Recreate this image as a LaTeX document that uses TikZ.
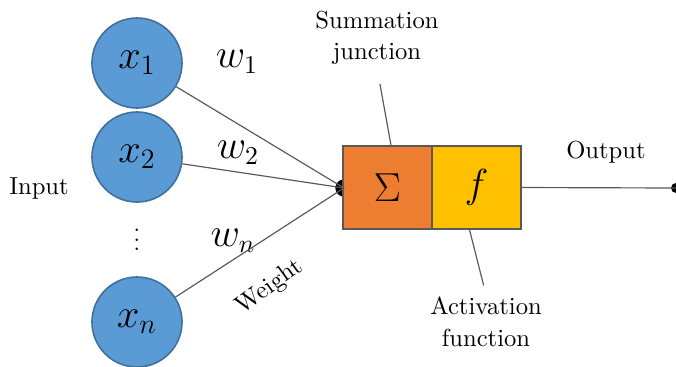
\documentclass[tikz,border=0pt]{standalone}
\usepackage{xcolor}
\usepackage{tikz}
\usepackage{amsmath}
\usetikzlibrary{positioning, calc}
\definecolor{neuronblue}{HTML}{5B9BD5}
\definecolor{neuronblueline}{HTML}{41719C}
\definecolor{sumorange}{HTML}{ED7D31}
\definecolor{actgold}{HTML}{FFC000}
\definecolor{wiregray}{HTML}{595959}

\begin{document}
\begin{tikzpicture}[
  x=0.015cm, y=-0.015cm,
  inp/.style={draw=neuronblueline, line width=0.7pt, fill=neuronblue, circle, minimum size=1.35cm, inner sep=0pt, font=\fontsize{17}{20}\selectfont},
  part/.style={draw=wiregray, line width=0.5pt, minimum width=1.335cm, minimum height=1.245cm, inner sep=0pt},
  lbl/.style={align=center, font=\fontsize{10.5}{13.4}\selectfont, inner sep=1pt},
  wlbl/.style={font=\fontsize{16}{18}\selectfont, inner sep=0pt},
  wire/.style={wiregray, line width=0.5pt},
  lead/.style={wiregray, line width=0.5pt}
]
\useasboundingbox (0,0) rectangle (676,366);

\node[inp] (x1) at (137,63) {$x_1$};
\node[inp] (x2) at (137,157) {$x_2$};
\node[inner sep=0pt, font=\normalsize] (vdot) at (137,233) {$\vdots$};
\node[inp] (xn) at (137,322) {$x_n$};
\node[lbl] (input) at (39,188) {Input};

\node[circle, fill=black, minimum size=0.26cm, inner sep=0pt] (jn) at (344,188) {};
\node[part, fill=sumorange, font=\fontsize{17}{20}\selectfont] (sigma) at (387.5,187.5) {$\Sigma$};
\node[part, fill=actgold, font=\fontsize{19}{22}\selectfont] (act) at (476.5,187.5) {$f$};

\node[lbl] (sumlbl) at (377,38) {Summation\\ junction};
\node[lbl] (actlbl) at (486,322) {Activation\\ function};
\node[lbl] (outlbl) at (606,152) {Output};
\node[circle, fill=black, minimum size=0.15cm, inner sep=0pt] (out) at (676,188) {};

\node[wlbl] (w1) at (237,62) {$w_1$};
\node[wlbl] (w2) at (238,153) {$w_2$};
\node[wlbl] (wn) at (233,241) {$w_n$};
\node[lbl, rotate=36] (weight) at (270,287) {Weight};

\draw[wire] (x1) -- (jn.center);
\draw[wire] (x2) -- (jn.center);
\draw[wire] (xn) -- (jn.center);
\draw[wire] (act.east) -- (out.center);
\draw[lead, shorten <=7pt] (sumlbl.south) -- ([xshift=1.5pt]sigma.north);
\draw[lead, shorten >=4pt] ([xshift=-3pt]act.south) -- (actlbl.north);
\end{tikzpicture}
\end{document}
